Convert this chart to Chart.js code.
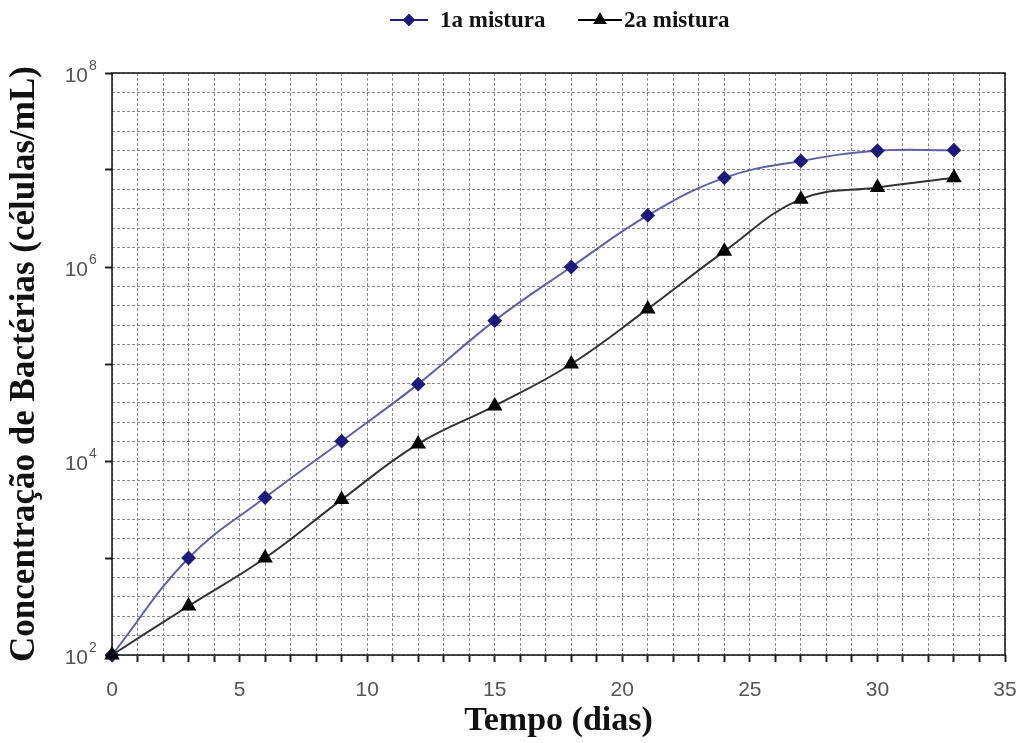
<!DOCTYPE html>
<html>
<head>
<meta charset="utf-8">
<script src="https://cdn.jsdelivr.net/npm/chart.js@4/dist/chart.umd.min.js"></script>
<style>
  html, body { margin: 0; padding: 0; background: #fff; }
  #wrap { width: 1025px; height: 743px; }
</style>
</head>
<body>
<div id="wrap"><canvas id="chart"></canvas></div>
<script>
// days of measurement
const days = [0, 3, 6, 9, 12, 15, 18, 21, 24, 27, 30, 33];
// cells/mL
const mistura1 = [1e2, 1.0e3, 4.2e3, 1.6e4, 6.2e4, 2.8e5, 1.0e6, 3.4e6, 8.3e6, 1.24e7, 1.58e7, 1.6e7];
const mistura2 = [1e2, 3.2e2, 1.0e3, 4.0e3, 1.5e4, 3.7e4, 1.0e5, 3.7e5, 1.45e6, 5.0e6, 6.6e6, 8.3e6];
const seriesNames = ['1a mistura', '2a mistura'];
const yLabelExponents = [2, 4, 6, 8];
const xLabelEvery = 5;

const blue = '#1c1c78';
const blueLine = '#6060a0';
const black = '#000000';

const toPoints = vals => days.map((d, i) => ({ x: d, y: vals[i] }));
const isDecade = v => Math.abs(Math.log10(v) - Math.round(Math.log10(v))) < 1e-6;

// superscripted y labels, border box and legend
const decoPlugin = {
    id: 'deco',
    beforeDatasetsDraw(chart){
        const ctx = chart.ctx, a = chart.chartArea;
        ctx.save();
        ctx.strokeStyle = '#111';
        ctx.lineWidth = 1.5;
        ctx.strokeRect(a.left, a.top, a.right - a.left, a.bottom - a.top);
        ctx.restore();
    },
    afterDraw(chart){
        const ctx = chart.ctx, y = chart.scales.y, a = chart.chartArea;
        ctx.save();
        ctx.fillStyle = '#555';
        yLabelExponents.forEach(e => {
            const py = y.getPixelForValue(Math.pow(10, e));
            ctx.font = '21px "Liberation Sans", Arial, sans-serif';
            ctx.textAlign = 'right';
            ctx.textBaseline = 'alphabetic';
            ctx.fillText('10', a.left - 24, py + 9);
            ctx.font = '14px "Liberation Sans", Arial, sans-serif';
            ctx.textAlign = 'left';
            ctx.fillText(String(e), a.left - 23, py - 3);
        });
        ctx.restore();

        // legend: line with marker, then bold label
        ctx.save();
        const ly = 20;
        const items = [
            { x0: 390, x1: 428, color: blue, style: 'rectRot', r: 5, tx: 440 },
            { x0: 578, x1: 622, color: black, style: 'triangle', r: 6, tx: 624 }
        ];
        items.forEach((it, i) => {
            ctx.strokeStyle = it.color;
            ctx.lineWidth = 2;
            ctx.beginPath();
            ctx.moveTo(it.x0, ly);
            ctx.lineTo(it.x1, ly);
            ctx.stroke();
            ctx.fillStyle = it.color;
            Chart.helpers.drawPoint(ctx, { pointStyle: it.style, radius: it.r, borderWidth: 1 }, (it.x0 + it.x1) / 2, ly);
            ctx.fillStyle = '#111';
            ctx.font = 'bold 23px "Liberation Serif", "Times New Roman", serif';
            ctx.textAlign = 'left';
            ctx.textBaseline = 'middle';
            ctx.fillText(seriesNames[i], it.tx, ly + 1);
        });
        ctx.restore();
    }
};

const ctx = document.getElementById('chart').getContext('2d');
new Chart(ctx, {
    type: 'line',
    data: {
        datasets: [
            {
                label: seriesNames[0],
                data: toPoints(mistura1),
                borderColor: blueLine,
                borderWidth: 2,
                backgroundColor: blue,
                pointBackgroundColor: blue,
                pointBorderColor: blue,
                pointStyle: 'rectRot',
                pointRadius: 6,
                tension: 0.4,
                clip: false,
                order: 1
            },
            {
                label: seriesNames[1],
                data: toPoints(mistura2),
                borderColor: '#333',
                borderWidth: 2,
                backgroundColor: black,
                pointBackgroundColor: black,
                pointBorderColor: black,
                pointStyle: 'triangle',
                pointRadius: 7,
                tension: 0.4,
                clip: false,
                order: 0
            }
        ]
    },
    options: {
        responsive: true,
        maintainAspectRatio: false,
        animation: false,
        layout: { padding: { top: 73, right: 20, left: 0, bottom: 0 } },
        plugins: {
            legend: { display: false },
            tooltip: { enabled: false }
        },
        scales: {
            x: {
                type: 'linear',
                min: 0,
                max: 35,
                afterFit(scale){
                    scale.height = 88;
                    scale.paddingLeft = 0;
                    scale.paddingRight = 0;
                },
                ticks: {
                    stepSize: 1,
                    autoSkip: false,
                    maxRotation: 0,
                    padding: 16,
                    color: '#555',
                    font: { family: '"Liberation Sans", Arial, sans-serif', size: 21 },
                    callback: v => (v % xLabelEvery === 0 ? String(v) : '')
                },
                grid: {
                    color: '#8a8a8a',
                    lineWidth: 1,
                    tickLength: 7,
                    tickColor: '#222',
                    tickWidth: 2
                },
                border: { display: false, dash: [3, 2] },
                title: {
                    display: true,
                    text: 'Tempo (dias)',
                    color: '#111',
                    font: { family: '"Liberation Serif", "Times New Roman", serif', size: 34, weight: 'bold' },
                    padding: { top: 0, bottom: 1 }
                }
            },
            y: {
                type: 'logarithmic',
                min: 1e2,
                max: 1e8,
                afterFit(scale){
                    scale.width = 112;
                    scale.paddingTop = 0;
                    scale.paddingBottom = 0;
                },
                afterBuildTicks(axis){
                    const t = [];
                    for (let k = 0; k <= 30; k++) t.push({ value: Math.pow(10, 2 + k * 0.2) });
                    axis.ticks = t;
                },
                ticks: { display: false },
                grid: {
                    color: '#8a8a8a',
                    lineWidth: 1,
                    tickLength: 7,
                    tickWidth: 2,
                    tickColor: c => (c.tick && isDecade(c.tick.value) ? '#222' : 'rgba(0,0,0,0)')
                },
                border: { display: false, dash: [3, 2] },
                title: {
                    display: true,
                    text: 'Concentração de Bactérias (células/mL)',
                    color: '#111',
                    font: { family: '"Liberation Serif", "Times New Roman", serif', size: 35, weight: 'bold' },
                    padding: { top: 4, bottom: 0 }
                }
            }
        }
    },
    plugins: [decoPlugin]
});
</script>
</body>
</html>
